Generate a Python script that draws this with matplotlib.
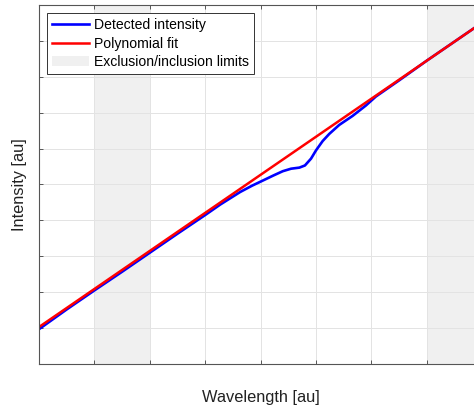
import matplotlib
matplotlib.use("Agg")
import matplotlib.pyplot as plt
from matplotlib.patches import Patch

plt.rcParams['font.family'] = ['Liberation Sans', 'DejaVu Sans']

# measured spectrum
wl = [0, 0.5, 1, 1.5, 2, 2.5, 3, 3.27, 3.63, 3.85, 4.0, 4.23, 4.4, 4.55,
      4.7, 4.8, 4.91, 5.0, 5.12, 5.24, 5.42, 5.66, 5.9, 6.08, 6.5, 7, 7.5, 8]
intensity = [0.97, 1.52, 2.05, 2.57, 3.10, 3.63, 4.15, 4.44, 4.79, 4.97, 5.08,
             5.25, 5.37, 5.44, 5.47, 5.53, 5.72, 5.95, 6.21, 6.41, 6.66, 6.91,
             7.20, 7.45, 7.90, 8.45, 8.98, 9.51]

# baseline fit
fit_wl = [0, 1, 2, 3, 4, 5, 6, 7, 8]
fit_val = [1.03, 2.09, 3.15, 4.21, 5.27, 6.33, 7.39, 8.45, 9.51]

# exclusion / inclusion windows
limits = [(1, 2), (7, 8)]

fig = plt.figure(figsize=(4.74, 4.07), dpi=100)
ax = fig.add_axes([0.0823, 0.1057, 0.935, 0.882])

for lo, hi in limits:
    ax.axvspan(lo, hi, color='#f0f0f0', lw=0, zorder=0.5)

ax.plot(wl, intensity, color=(0, 0, 1), lw=1.9, label='Detected intensity')
ax.plot(fit_wl, fit_val, color=(1, 0, 0), lw=1.8, label='Polynomial fit')

ax.set_xlim(0, 8)
ax.set_ylim(0, 10)
ax.set_xticks(range(0, 9))
ax.set_yticks(range(0, 11))
ax.set_xticklabels([])
ax.set_yticklabels([])
ax.tick_params(direction='in', length=3, width=0.6, color='#404040',
               top=True, right=True)
ax.grid(True, color='#e3e3e3', lw=0.7)
for s in ax.spines.values():
    s.set_color('#555555')
    s.set_linewidth(0.8)

ax.set_xlabel('Wavelength [au]', fontsize=11.8, labelpad=15, color='#222222')
ax.set_ylabel('Intensity [au]', fontsize=11.8, labelpad=5, color='#222222')

handles, labels = ax.get_legend_handles_labels()
handles.append(Patch(facecolor='#f0f0f0', edgecolor='none'))
labels.append('Exclusion/inclusion limits')
leg = ax.legend(handles, labels, loc='upper left', fontsize=10.1,
                fancybox=False, framealpha=1, edgecolor='#333333',
                handlelength=2.6, handletextpad=0.4, borderpad=0.35,
                labelspacing=0.3, borderaxespad=0.6,
                bbox_to_anchor=(0.0, 1.0))
leg.get_frame().set_linewidth(0.7)

fig.savefig('out.png', dpi=100)
